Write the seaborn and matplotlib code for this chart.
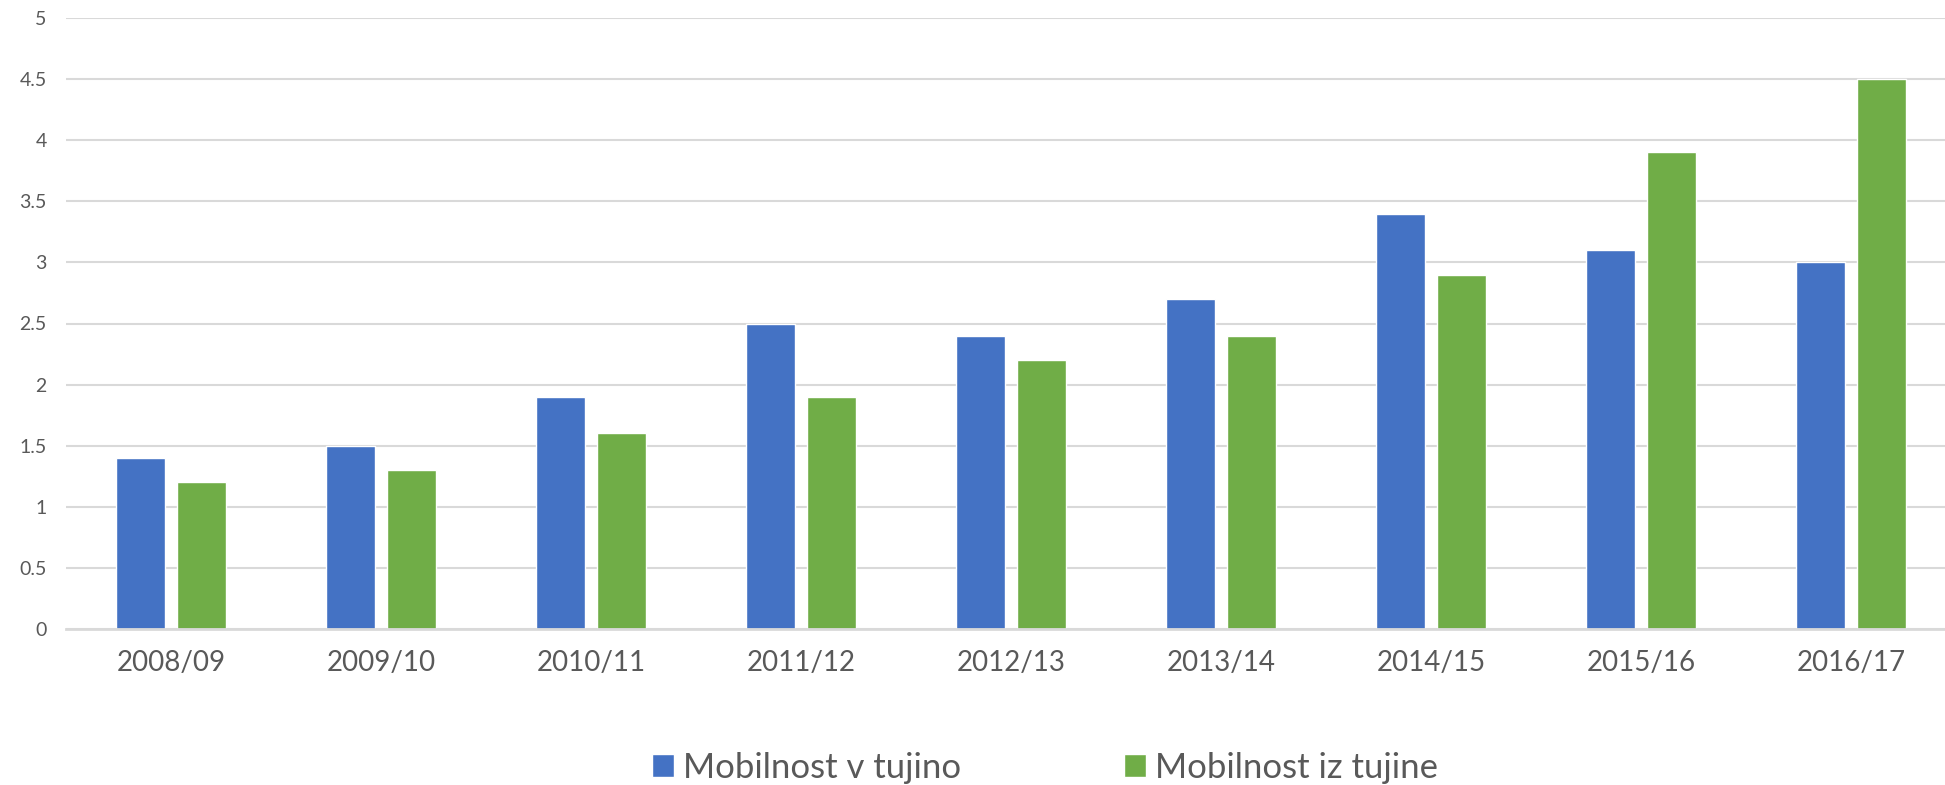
import matplotlib
matplotlib.use("Agg")
import matplotlib.pyplot as plt
import seaborn as sns
import pandas as pd
from matplotlib.ticker import FixedLocator, FuncFormatter

categories = ["2008/09", "2009/10", "2010/11", "2011/12", "2012/13",
              "2013/14", "2014/15", "2015/16", "2016/17"]
series_names = ["Mobilnost v tujino", "Mobilnost iz tujine"]
v_tujino = [1.4, 1.5, 1.9, 2.5, 2.4, 2.7, 3.4, 3.1, 3.0]
iz_tujine = [1.2, 1.3, 1.6, 1.9, 2.2, 2.4, 2.9, 3.9, 4.5]
y_ticks = [0, 0.5, 1, 1.5, 2, 2.5, 3, 3.5, 4, 4.5, 5]

df = pd.DataFrame({
    "cat": categories * 2,
    "series": [series_names[0]] * len(categories) + [series_names[1]] * len(categories),
    "value": v_tujino + iz_tujine,
})

sns.set_theme(style="white")
plt.rcParams["font.family"] = ["Lato", "DejaVu Sans"]

text_color = "#595959"
grid_color = "#D9D9D9"

fig = plt.figure(figsize=(19.45, 7.85), dpi=100)
ax = fig.add_axes([66 / 1945, 156 / 785, 1890 / 1945, 611 / 785])

sns.barplot(data=df, x="cat", y="value", hue="series", order=categories,
            hue_order=series_names, palette=["#4472C4", "#70AD47"],
            width=0.58, gap=0.21, saturation=1, ax=ax, legend=True)

ax.set_xlim(-0.5, len(categories) - 0.5)
ax.set_ylim(0, 5)
ax.set_yticks(y_ticks)
ax.yaxis.set_major_formatter(FuncFormatter(lambda v, p: f"{v:g}"))
ax.grid(axis="y", color=grid_color, linewidth=1.5)
ax.set_axisbelow(True)
for s in ["left", "right", "top"]:
    ax.spines[s].set_visible(False)
ax.spines["bottom"].set_color(grid_color)
ax.spines["bottom"].set_linewidth(2)

ax.tick_params(axis="y", length=0, pad=14, labelsize=14, labelcolor=text_color)
ax.tick_params(axis="x", which="major", length=0, pad=15, labelsize=20, labelcolor=text_color)
ax.xaxis.set_minor_locator(FixedLocator([i - 0.5 for i in range(len(categories) + 1)]))
ax.tick_params(axis="x", which="minor", length=10, width=2, color=grid_color)
ax.set_xlabel("")
ax.set_ylabel("")

handles, labels = ax.get_legend_handles_labels()
ax.legend_.remove()
fig.legend(handles, labels, loc="center", bbox_to_anchor=(1045 / 1945, 1 - 768 / 785),
           ncol=2, frameon=False, fontsize=25, labelcolor=text_color,
           handlelength=0.63, handleheight=0.63, handletextpad=0.26,
           columnspacing=4.7)

fig.savefig("out.png", dpi=100, facecolor="white")
